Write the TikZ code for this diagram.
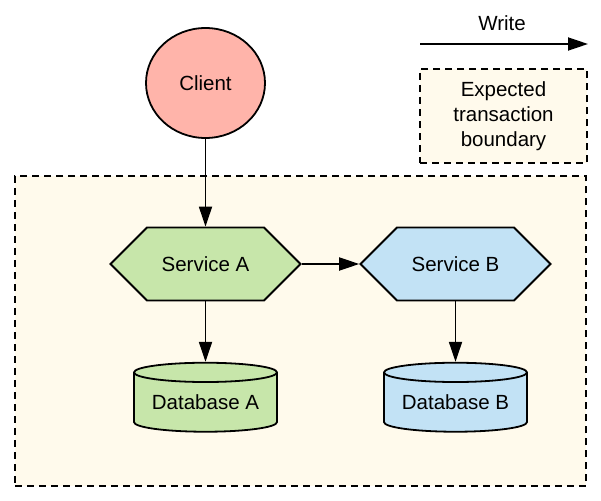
\documentclass[tikz,border=0pt]{standalone}
\usepackage{fontspec}
\setmainfont{Liberation Sans}
\usepackage{tikz}
\usetikzlibrary{shapes,shapes.geometric,shapes.symbols,arrows.meta,positioning}
\definecolor{clientred}{RGB}{255,180,170}
\definecolor{servgreen}{RGB}{199,230,170}
\definecolor{servblue}{RGB}{194,226,245}
\definecolor{boundcream}{RGB}{255,250,236}
\tikzset{>={Triangle[length=20pt,width=13pt]}}
\tikzset{
	boundbox/.style={draw, fill=boundcream, line width=1.2pt, dash pattern=on 7pt off 5pt},
	service/.style={signal, signal to=east and west, signal pointer angle=90, draw, minimum width=190pt, minimum height=73pt, inner sep=0pt},
	database/.style={cylinder, shape border rotate=90, aspect=0.18, draw, minimum width=143pt, minimum height=69pt, inner sep=0pt}
}

\begin{document}
\begin{tikzpicture}[x=1pt, y=-1pt, line width=1.8pt, every node/.style={font=\fontsize{20.5}{25}\selectfont}]
			\useasboundingbox (0,0) rectangle (601,500);
			\node[boundbox, minimum width=571pt, minimum height=310pt] (boundary) at (300.5,331) {};
			\node[boundbox, minimum width=167pt, minimum height=94pt, align=center] (legend) at (503.5,116) {Expected\\transaction\\boundary};
			\node (write) at (502,23) {Write};
			\coordinate (wstart) at (420,44);
			\coordinate (wend) at (588,44);
			\draw[->] (wstart) -- (wend);
			\node[ellipse, draw, fill=clientred, minimum width=119pt, minimum height=110pt] (client) at (205.5,83) {Client};
			\node[service, fill=servgreen] (serva) at (205.5,264) {Service A};
			\node[service, fill=servblue] (servb) at (455.5,264) {Service B};
			\node[database, fill=servgreen] (dba) at (205.5,402.5) {Database A};
			\node[database, fill=servblue] (dbb) at (455.5,402.5) {Database B};
			\draw[->] (client.south) -- (serva.north);
			\draw[->] (serva.east) -- (servb.west);
			\draw[->] (serva.south) -- (dba.north);
			\draw[->] (servb.south) -- (dbb.north);
		\end{tikzpicture}
\end{document}
